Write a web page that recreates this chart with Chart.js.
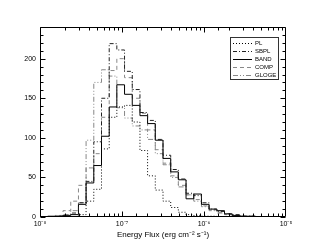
<!DOCTYPE html>
<html><head><meta charset="utf-8">
<script src="https://cdn.jsdelivr.net/npm/chart.js@4.4.1/dist/chart.umd.min.js"></script>
<style>html,body{margin:0;padding:0;background:#fff;}canvas{display:block;}</style>
</head><body>
<canvas id="c" width="311" height="249" style="width:311px;height:249px"></canvas>
<script>
// Bin edges (log10 of energy flux, erg cm^-2 s^-1)
const binEdgesLog = [-8.000,-7.906,-7.813,-7.719,-7.625,-7.531,-7.438,-7.344,-7.250,-7.156,
  -7.063,-6.969,-6.875,-6.781,-6.688,-6.594,-6.500,-6.406,-6.313,-6.219,
  -6.125,-6.031,-5.938,-5.844,-5.750,-5.656,-5.563,-5.469,-5.375,-5.281,-5.188];
// Counts per bin
const plCounts    = [0,0,0,0,0,3,20,35,86,126,139,141,120,84,52,34,20,12,6,3,2,1,1,0,0,0,0,0,0,0];
const sbplCounts  = [0,0,1,2,5,18,45,95,150,219,211,184,161,132,122,98,78,60,48,30,27,18,10,7,4,3,1,1,0,0];
const bandCounts  = [0,1,1,2,3,16,43,65,102,139,167,155,141,128,118,97,74,57,47,23,29,16,10,8,4,2,1,1,0,0];
const compCounts  = [0,0,2,8,20,40,62,80,126,185,200,176,150,131,110,85,68,52,40,28,22,14,9,6,3,2,1,1,0,0];
const glogeCounts = [0,0,1,3,8,18,97,170,186,178,138,125,115,110,98,80,66,50,38,28,20,13,8,5,3,2,1,0,0,0];
const seriesNames = ['PL','SBPL','BAND','COMP','GLOGE'];
const xTickDecades = [-8,-7,-6,-5];
const yMax = 240, yMinorStep = 10, yMajorStep = 50;

const sup = {'-':'\u207B','0':'\u2070','1':'\u00B9','2':'\u00B2','3':'\u00B3','4':'\u2074','5':'\u2075','6':'\u2076','7':'\u2077','8':'\u2078','9':'\u2079'};
const toSup = s => String(s).split('').map(c => sup[c] || c).join('');
const isDecade = v => { const l = Math.log10(v); return Math.abs(l - Math.round(l)) < 1e-6; };

function histPoints(counts) {
  return binEdgesLog.map((e, i) => ({x: Math.pow(10, e), y: i < counts.length ? counts[i] : 0}));
}
const styles = [
  {data: plCounts,    color: '#000', dash: [1,2]},
  {data: sbplCounts,  color: '#222', dash: [4,2,1,2]},
  {data: bandCounts,  color: '#000', dash: []},
  {data: compCounts,  color: '#888', dash: [4,3]},
  {data: glogeCounts, color: '#888', dash: [5,2,1,2,1,2]}
];
const FONT = '"Liberation Sans", Arial, Helvetica, sans-serif';
Chart.defaults.font.family = FONT;
Chart.defaults.color = '#000';

const frameTicks = {
  id: 'frameTicks',
  afterLayout(chart) {
    const lg = chart.legend, a = chart.chartArea;
    if (!lg) return;
    lg.left = a.right - 55; lg.right = a.right - 9;
    lg.top = a.top + 11.5; lg.bottom = a.bottom;
  },
  afterDatasetsDraw(chart) {
    const {ctx, chartArea: a, scales} = chart;
    const L = Math.round(a.left) + 0.5, R = Math.round(a.right) - 0.5;
    const T = Math.round(a.top) + 0.5, B = Math.round(a.bottom) - 0.5;
    ctx.save();
    ctx.strokeStyle = '#000'; ctx.lineWidth = 1; ctx.setLineDash([]);
    ctx.beginPath();
    ctx.rect(L, T, R - L, B - T);
    scales.x.ticks.forEach(t => {
      const px = Math.round(scales.x.getPixelForValue(t.value)) + 0.5;
      if (px < a.left || px > a.right) return;
      const len = isDecade(t.value) ? 5 : 3;
      ctx.moveTo(px, B); ctx.lineTo(px, B - len);
      ctx.moveTo(px, T); ctx.lineTo(px, T + len);
    });
    scales.y.ticks.forEach(t => {
      const py = Math.round(scales.y.getPixelForValue(t.value)) + 0.5;
      const len = t.value % yMajorStep === 0 ? 5 : 3;
      ctx.moveTo(L, py); ctx.lineTo(L + len, py);
      ctx.moveTo(R, py); ctx.lineTo(R - len, py);
    });
    ctx.stroke();
    const lg = chart.legend;
    if (lg) {
      ctx.font = '6px ' + FONT;
      const tw = Math.max(...seriesNames.map(n => ctx.measureText(n).width));
      const left = Math.round(lg.left) - 0.5;
      const right = Math.max(Math.round(lg.right) + 0.5, Math.ceil(lg.left + 2 + 19 + 3 + tw) + 1.5);
      ctx.strokeStyle = '#333';
      ctx.strokeRect(left, Math.round(lg.top) - 1.5, right - left, 42);
    }
    ctx.restore();
  }
};

new Chart(document.getElementById('c'), {
  type: 'line',
  data: {
    datasets: styles.map((s, i) => ({
      label: seriesNames[i],
      data: histPoints(s.data),
      borderColor: s.color,
      backgroundColor: s.color,
      borderDash: s.dash,
      borderWidth: 1,
      pointRadius: 0,
      stepped: 'before',
      fill: false
    }))
  },
  options: {
    responsive: false,
    animation: false,
    devicePixelRatio: 1,
    layout: {padding: {top: 27, right: 25, bottom: 9, left: 0}},
    plugins: {
      tooltip: {enabled: false},
      legend: {
        position: 'chartArea',
        align: 'start',
        labels: {
          usePointStyle: true,
          pointStyle: 'line',
          pointStyleWidth: 19,
          boxHeight: 6,
          padding: 2,
          textAlign: 'left',
          font: {size: 6},
          color: '#000',
          generateLabels: chart => Chart.defaults.plugins.legend.labels.generateLabels(chart).map(it => ({
            ...it,
            lineDash: chart.data.datasets[it.datasetIndex].borderDash,
            strokeStyle: chart.data.datasets[it.datasetIndex].borderColor,
            lineWidth: 1
          }))
        }
      }
    },
    scales: {
      x: {
        type: 'logarithmic',
        min: 1e-8, max: 1e-5,
        grid: {display: false, drawTicks: false},
        border: {display: false},
        ticks: {
          autoSkip: false, maxRotation: 0, padding: 3,
          font: {size: 7},
          callback: v => isDecade(v) && xTickDecades.includes(Math.round(Math.log10(v))) ? '10' + toSup(Math.round(Math.log10(v))) : ''
        },
        title: {display: true, text: 'Energy Flux (erg cm' + toSup(-2) + ' s' + toSup(-1) + ')', font: {size: 8}, padding: 0},
        afterFit: s => { s.height = 23; }
      },
      y: {
        min: 0, max: yMax,
        grid: {display: false, drawTicks: false},
        border: {display: false},
        ticks: {
          stepSize: yMinorStep, autoSkip: false, padding: 4,
          font: {size: 7},
          callback: v => v % yMajorStep === 0 && v <= 200 ? String(v) : ''
        },
        afterFit: s => { s.width = 40; }
      }
    }
  },
  plugins: [frameTicks]
});
</script>
</body></html>
